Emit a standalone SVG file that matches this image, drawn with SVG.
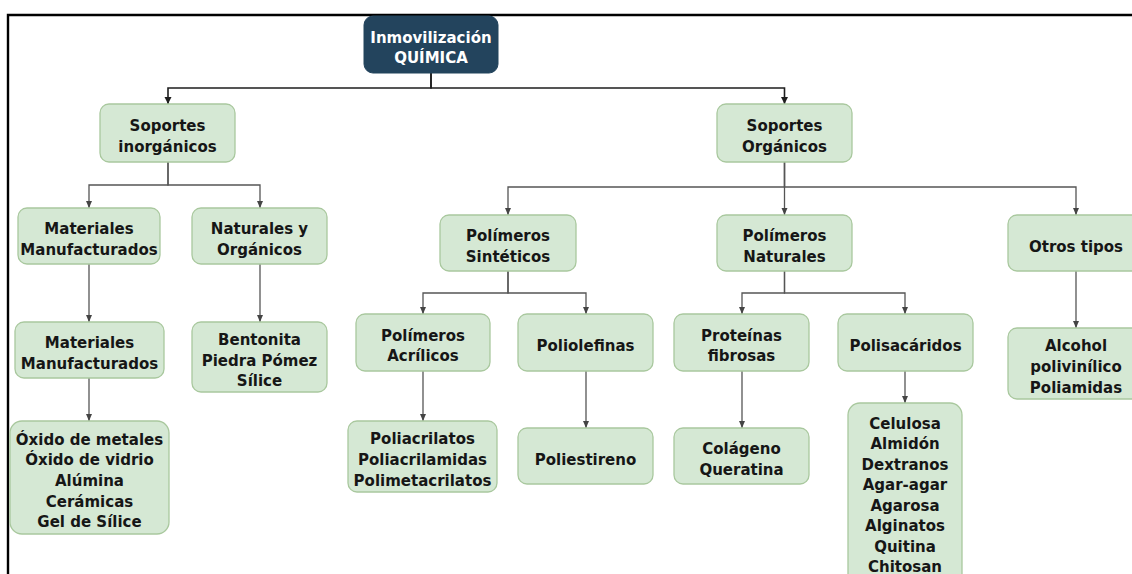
<svg xmlns="http://www.w3.org/2000/svg" width="1132" height="574" viewBox="0 0 1132 574">
<style>
  .box { fill: #d5e8d4; stroke: #a9c89e; stroke-width: 1.3; }
  .root { fill: #23445d; stroke: #23445d; stroke-width: 1; }
  text { font-family: "DejaVu Sans", Verdana, sans-serif; font-weight: bold; font-size: 15px; text-anchor: middle; fill: #161616; }
  .rt { fill: #ffffff; }
  .c1 { fill: none; stroke: #1e1e1e; stroke-width: 1.6; }
  .c2 { fill: none; stroke: #555555; stroke-width: 1.3; }
  .frame { fill: none; stroke: #000000; stroke-width: 2.4; }
</style>
<defs>
  <marker id="a1" markerUnits="userSpaceOnUse" markerWidth="8" markerHeight="8" refX="7" refY="4" orient="auto">
    <path d="M0,0.5 L7,4 L0,7.5 z" fill="#1e1e1e"/>
  </marker>
  <marker id="a2" markerUnits="userSpaceOnUse" markerWidth="8" markerHeight="8" refX="7" refY="4" orient="auto">
    <path d="M0,1 L7,4 L0,7 z" fill="#444444"/>
  </marker>
</defs>
<rect width="1132" height="574" fill="#ffffff"/>
<path class="frame" d="M8,574 V15 H1132"/>

<g id="connectors">
  <path class="c1" d="M431,73 V88 H168 V104" marker-end="url(#a1)"/>
  <path class="c1" d="M431,73 V88 H784.5 V104" marker-end="url(#a1)"/>
  <path class="c2" d="M168,162 V185 H89 V208" marker-end="url(#a2)"/>
  <path class="c2" d="M168,162 V185 H260 V208" marker-end="url(#a2)"/>
  <path class="c2" d="M89,264 V322" marker-end="url(#a2)"/>
  <path class="c2" d="M260,264 V322" marker-end="url(#a2)"/>
  <path class="c2" d="M89,378 V421" marker-end="url(#a2)"/>
  <path class="c2" d="M784.5,162 V187 H508 V215" marker-end="url(#a2)"/>
  <path class="c2" d="M784.5,162 V215" marker-end="url(#a2)"/>
  <path class="c2" d="M784.5,162 V187 H1076 V215" marker-end="url(#a2)"/>
  <path class="c2" d="M508,271 V293 H423 V314" marker-end="url(#a2)"/>
  <path class="c2" d="M508,271 V293 H586 V314" marker-end="url(#a2)"/>
  <path class="c2" d="M423,371 V421" marker-end="url(#a2)"/>
  <path class="c2" d="M586,371 V428" marker-end="url(#a2)"/>
  <path class="c2" d="M784.5,271 V293 H742 V314" marker-end="url(#a2)"/>
  <path class="c2" d="M784.5,271 V293 H905 V314" marker-end="url(#a2)"/>
  <path class="c2" d="M742,371 V428" marker-end="url(#a2)"/>
  <path class="c2" d="M905,371 V403" marker-end="url(#a2)"/>
  <path class="c2" d="M1076,271 V328" marker-end="url(#a2)"/>
</g>

<g id="root">
  <rect class="root" x="364" y="16" width="134" height="57" rx="9"/>
  <text class="rt" x="431" y="42.7">Inmovilización</text>
  <text class="rt" x="431" y="63.3">QUÍMICA</text>
</g>
<g id="soportes-inorganicos">
  <rect class="box" x="100" y="104" width="135" height="58" rx="9"/>
  <text x="167.5" y="131.2">Soportes</text>
  <text x="167.5" y="151.8">inorgánicos</text>
</g>
<g id="soportes-organicos">
  <rect class="box" x="717" y="104" width="135" height="58" rx="9"/>
  <text x="784.5" y="131.2">Soportes</text>
  <text x="784.5" y="151.8">Orgánicos</text>
</g>
<g id="materiales-manufacturados-1">
  <rect class="box" x="18" y="208" width="142" height="56" rx="9"/>
  <text x="89" y="234.2">Materiales</text>
  <text x="89" y="254.8">Manufacturados</text>
</g>
<g id="naturales-organicos">
  <rect class="box" x="192" y="208" width="135" height="56" rx="9"/>
  <text x="259.5" y="234.2">Naturales y</text>
  <text x="259.5" y="254.8">Orgánicos</text>
</g>
<g id="materiales-manufacturados-2">
  <rect class="box" x="15" y="322" width="149" height="56" rx="9"/>
  <text x="89.5" y="348.2">Materiales</text>
  <text x="89.5" y="368.8">Manufacturados</text>
</g>
<g id="bentonita">
  <rect class="box" x="192" y="322" width="135" height="70" rx="9"/>
  <text x="259.5" y="344.9">Bentonita</text>
  <text x="259.5" y="365.5">Piedra Pómez</text>
  <text x="259.5" y="386.1">Sílice</text>
</g>
<g id="oxidos">
  <rect class="box" x="10" y="421" width="159" height="113" rx="12"/>
  <text x="89.5" y="444.8">Óxido de metales</text>
  <text x="89.5" y="465.4">Óxido de vidrio</text>
  <text x="89.5" y="486">Alúmina</text>
  <text x="89.5" y="506.6">Cerámicas</text>
  <text x="89.5" y="527.2">Gel de Sílice</text>
</g>
<g id="polimeros-sinteticos">
  <rect class="box" x="440" y="215" width="136" height="56" rx="9"/>
  <text x="508" y="241.2">Polímeros</text>
  <text x="508" y="261.8">Sintéticos</text>
</g>
<g id="polimeros-naturales">
  <rect class="box" x="717" y="215" width="135" height="56" rx="9"/>
  <text x="784.5" y="241.2">Polímeros</text>
  <text x="784.5" y="261.8">Naturales</text>
</g>
<g id="otros-tipos">
  <rect class="box" x="1008" y="215" width="136" height="56" rx="9"/>
  <text x="1076" y="251.5">Otros tipos</text>
</g>
<g id="polimeros-acrilicos">
  <rect class="box" x="356" y="314" width="134" height="57" rx="9"/>
  <text x="423" y="340.7">Polímeros</text>
  <text x="423" y="361.3">Acrílicos</text>
</g>
<g id="poliolefinas">
  <rect class="box" x="518" y="314" width="135" height="57" rx="9"/>
  <text x="585.5" y="351">Poliolefinas</text>
</g>
<g id="proteinas-fibrosas">
  <rect class="box" x="674" y="314" width="135" height="57" rx="9"/>
  <text x="741.5" y="340.7">Proteínas</text>
  <text x="741.5" y="361.3">fibrosas</text>
</g>
<g id="polisacaridos">
  <rect class="box" x="838" y="314" width="135" height="57" rx="9"/>
  <text x="905.5" y="351">Polisacáridos</text>
</g>
<g id="alcohol">
  <rect class="box" x="1008" y="328" width="136" height="71" rx="9"/>
  <text x="1076" y="351.4">Alcohol</text>
  <text x="1076" y="372">polivinílico</text>
  <text x="1076" y="392.6">Poliamidas</text>
</g>
<g id="poliacrilatos">
  <rect class="box" x="348" y="421" width="149" height="71" rx="9"/>
  <text x="422.5" y="444.4">Poliacrilatos</text>
  <text x="422.5" y="465">Poliacrilamidas</text>
  <text x="422.5" y="485.6">Polimetacrilatos</text>
</g>
<g id="poliestireno">
  <rect class="box" x="518" y="428" width="135" height="56" rx="9"/>
  <text x="585.5" y="464.5">Poliestireno</text>
</g>
<g id="colageno">
  <rect class="box" x="674" y="428" width="135" height="56" rx="9"/>
  <text x="741.5" y="454.2">Colágeno</text>
  <text x="741.5" y="474.8">Queratina</text>
</g>
<g id="polisacaridos-lista">
  <rect class="box" x="848" y="403" width="114" height="190" rx="12"/>
  <text x="905" y="428.5">Celulosa</text>
  <text x="905" y="449">Almidón</text>
  <text x="905" y="469.5">Dextranos</text>
  <text x="905" y="490">Agar-agar</text>
  <text x="905" y="510.5">Agarosa</text>
  <text x="905" y="531">Alginatos</text>
  <text x="905" y="551.5">Quitina</text>
  <text x="905" y="572">Chitosan</text>
</g>
</svg>
